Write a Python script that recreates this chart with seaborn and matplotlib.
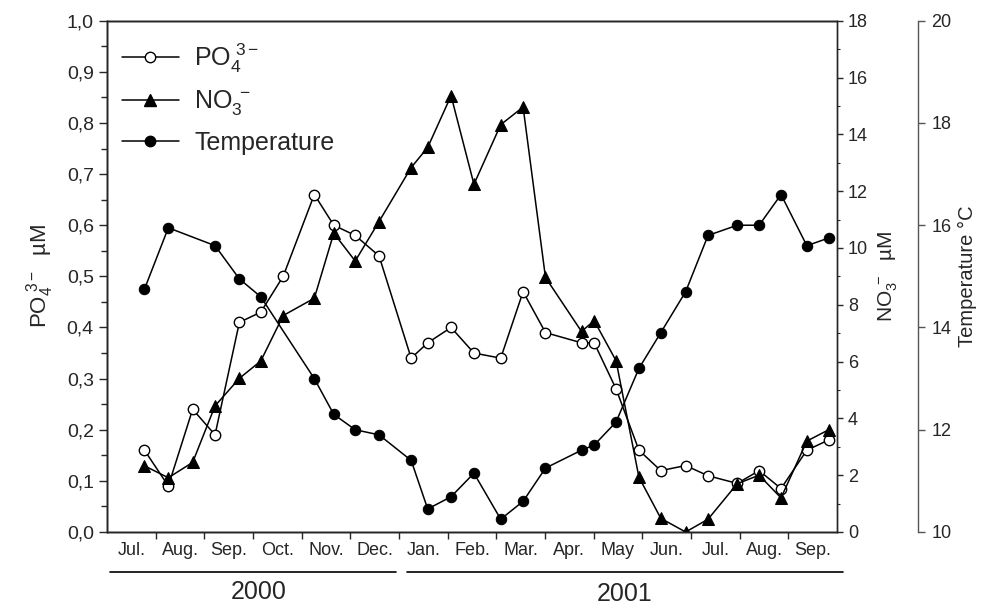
import numpy as np
import pandas as pd
import matplotlib
matplotlib.use("Agg")
import matplotlib.pyplot as plt
from matplotlib.lines import Line2D
from matplotlib.ticker import MultipleLocator, FixedLocator, NullFormatter, FixedFormatter
import seaborn as sns

# ---------------- data (x = months since 1 Jul 2000) ----------------
sample_month = [0.77, 1.26, 1.76, 2.22, 2.72, 3.16, 3.62, 4.26, 4.66, 5.10,
                5.59, 6.25, 6.59, 7.07, 7.54, 8.09, 8.55, 9.01, 9.75, 10.01,
                10.46, 10.93, 11.38, 11.89, 12.35, 12.95, 13.40, 13.85, 14.38, 14.83]
po4 = [0.16, 0.09, 0.24, 0.19, 0.41, 0.43, 0.50, 0.66, 0.60, 0.58,
       0.54, 0.34, 0.37, 0.40, 0.35, 0.34, 0.47, 0.39, 0.37, 0.37,
       0.28, 0.16, 0.12, 0.13, 0.11, 0.095, 0.12, 0.085, 0.16, 0.18]
no3 = [2.33, 1.91, 2.45, 4.44, 5.41, 6.02, 7.62, 8.23, 10.52, 9.54,
       10.93, 12.83, 13.54, 15.36, 12.24, 14.34, 14.96, 8.96, 7.06, 7.44,
       6.03, 1.93, 0.48, 0.0, 0.45, 1.7, 2.0, 1.2, 3.2, 3.6]
temperature = [14.75, 15.95, np.nan, 15.6, 14.95, 14.6, np.nan, 13.0, 12.3, 12.0,
               11.9, 11.4, 10.45, 10.69, 11.15, 10.25, 10.6, 11.25, 11.6, 11.7,
               12.15, 13.2, 13.9, 14.7, 15.8, 16.0, 16.0, 16.6, 15.6, 15.75]
month_labels = ["Jul.", "Aug.", "Sep.", "Oct.", "Nov.", "Dec.", "Jan.", "Feb.",
                "Mar.", "Apr.", "May", "Jun.", "Jul.", "Aug.", "Sep."]
years = ["2000", "2001"]

df = pd.DataFrame({"m": sample_month, "po4": po4, "no3": no3, "temp": temperature})
df_t = df.dropna(subset=["temp"])

# ---------------- style ----------------
sns.set_style("ticks")
plt.rcParams["font.family"] = ["Liberation Sans", "DejaVu Sans"]
plt.rcParams["mathtext.fontset"] = "custom"
plt.rcParams["mathtext.rm"] = "Liberation Sans"
plt.rcParams["mathtext.it"] = "Liberation Sans:italic"
plt.rcParams["axes.linewidth"] = 1.0

fig = plt.figure(figsize=(9.84, 6.10), dpi=100)
ax = fig.add_axes([107/984, 1-532/610, (837-107)/984, (532-20.7)/610])
ax2 = ax.twinx()
ax3 = ax.twinx()
ax3.spines["right"].set_position(("outward", 58))

lw = 1.1
ms = 7.5
sns.lineplot(data=df, x="m", y="po4", ax=ax, color="black", lw=lw, marker="o",
             markersize=ms, markerfacecolor="white", markeredgecolor="black",
             markeredgewidth=1.0, zorder=4)
sns.lineplot(data=df, x="m", y="no3", ax=ax2, color="black", lw=lw, marker="^",
             markersize=ms + 0.5, markerfacecolor="black", markeredgecolor="black", zorder=3)
sns.lineplot(data=df_t, x="m", y="temp", ax=ax3, color="black", lw=lw, marker="o",
             markersize=ms, markerfacecolor="black", markeredgecolor="black", zorder=3)

# ---------------- axes ----------------
ax.set_xlim(0, 15)
ax.set_ylim(0, 1.0)
ax2.set_ylim(0, 18)
ax3.set_ylim(10, 20)

ax.xaxis.set_major_locator(FixedLocator(np.arange(1, 15)))
ax.xaxis.set_major_formatter(NullFormatter())
ax.xaxis.set_minor_locator(FixedLocator(np.arange(15) + 0.5))
ax.xaxis.set_minor_formatter(FixedFormatter(month_labels))
ax.tick_params(axis="x", which="major", direction="out", length=5, width=1.0)
ax.tick_params(axis="x", which="minor", length=0, pad=7, labelsize=13)

ax.set_yticks(np.round(np.arange(0, 1.01, 0.1), 2))
ax.set_yticklabels([f"{v:.1f}".replace(".", ",") for v in np.arange(0, 1.01, 0.1)])
ax.yaxis.set_minor_locator(MultipleLocator(0.05))
ax.tick_params(axis="y", which="major", direction="out", length=6, width=1.0, labelsize=14)
ax.tick_params(axis="y", which="minor", direction="out", length=4, width=1.0)

ax2.set_yticks(np.arange(0, 19, 2))
ax2.yaxis.set_minor_locator(MultipleLocator(1))
ax2.tick_params(axis="y", which="major", direction="out", length=4, width=1.0, labelsize=13, pad=4)
ax2.tick_params(axis="y", which="minor", direction="out", length=2, width=0.8)

ax3.set_yticks(np.arange(10, 21, 2))
ax3.spines["right"].set_color("#555555")
ax3.tick_params(axis="y", which="major", direction="out", length=5, width=1.0,
                labelsize=13, color="#555555", pad=5)

for a in (ax, ax2, ax3):
    a.set_xlabel("")
    a.set_ylabel("")

ax.set_ylabel(r"$\mathregular{PO_4^{\ 3-}}$  µM", fontsize=16, labelpad=8)
ax2.set_ylabel(r"$\mathregular{NO_3^{\ -}}$  µM", fontsize=15, labelpad=6)
ax3.set_ylabel("Temperature °C", fontsize=14.5)
ax3.yaxis.set_label_coords((958 - 107) / 730, 0.5)

# ---------------- legend ----------------
handles = [
    Line2D([], [], color="black", lw=lw, marker="o", markersize=ms,
           markerfacecolor="white", markeredgecolor="black"),
    Line2D([], [], color="black", lw=lw, marker="^", markersize=ms + 0.5,
           markerfacecolor="black"),
    Line2D([], [], color="black", lw=lw, marker="o", markersize=ms,
           markerfacecolor="black"),
]
labels = [r"$\mathregular{PO_4^{\ 3-}}$", r"$\mathregular{NO_3^{\ -}}$", "Temperature"]
ax3.legend(handles, labels, loc="upper left", bbox_to_anchor=(0.02, 0.96),
           frameon=False, fontsize=18, handlelength=2.3, handletextpad=0.6,
           labelspacing=0.55, borderpad=0, borderaxespad=0)

# ---------------- year annotations ----------------
yl = 1 - 571.7/610
fig.add_artist(Line2D([110/984, 396/984], [yl, yl], color="black", lw=1.2))
fig.add_artist(Line2D([407/984, 843/984], [yl, yl], color="black", lw=1.2))
fig.text(259/984, 1 - 592/610, years[0], ha="center", va="center", fontsize=18)
fig.text(625/984, 1 - 594/610, years[1], ha="center", va="center", fontsize=18)

fig.savefig("out.png", dpi=100)
